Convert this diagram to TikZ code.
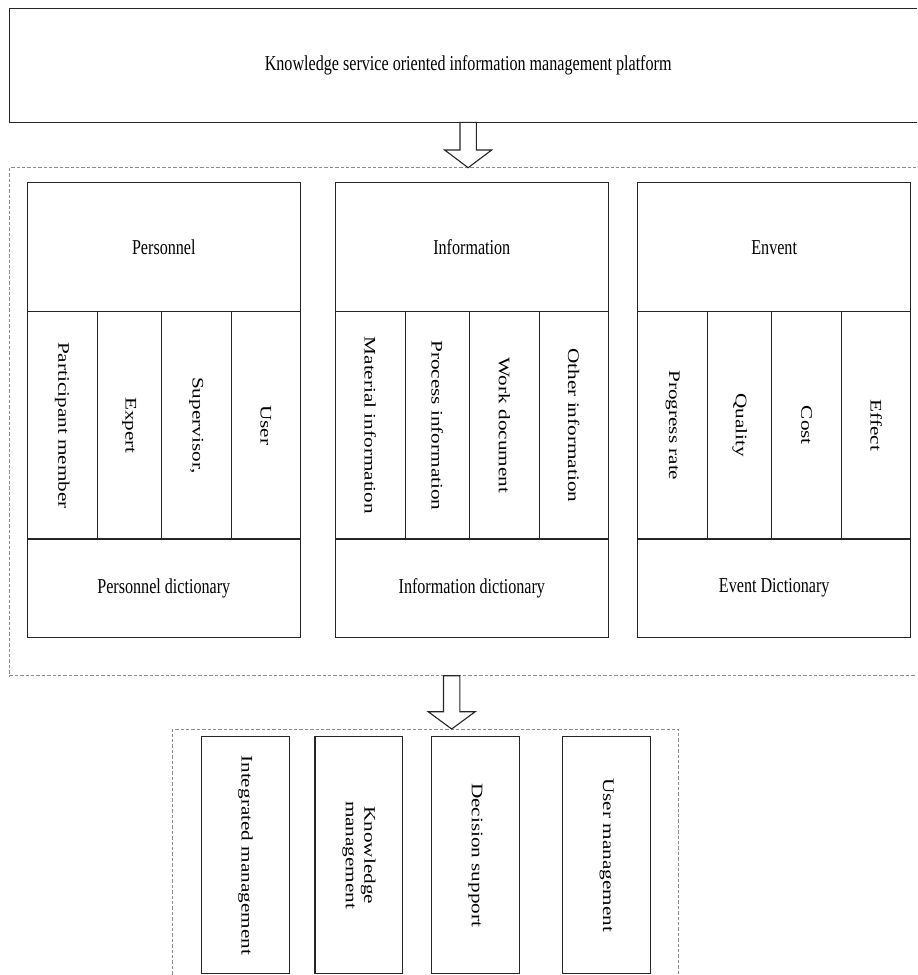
\documentclass[tikz,border=0pt]{standalone}
\usepackage{fontspec}
\setmainfont{Liberation Serif}
\usepackage{graphicx}
\begin{document}
\begin{tikzpicture}[x=0.5pt, y=-0.5pt,
        every node/.style={font=\fontsize{10.6}{12.2}\selectfont, inner sep=0pt, outer sep=0pt},
        cell/.style={draw=black!85, line width=0.55pt, anchor=north west},
        frame/.style={draw=black!45, line width=0.5pt, dash pattern=on 1.7pt off 1pt, anchor=north west},
        blockarrow/.style={draw=black!85, line width=0.55pt, fill=white, line join=miter}]
        \def\hlab#1{\scalebox{0.76}[1]{#1}}
        \def\vlab#1{\rotatebox{-90}{\scalebox{1}[0.76]{#1}}}
        \useasboundingbox (0,0) rectangle (917,975);
        \clip (0,0) rectangle (917,975);
        \node[frame, minimum width=917.7*0.5pt, minimum height=508*0.5pt] (board) at (9.3,167.7) {};
        \node[frame, minimum width=506.5*0.5pt, minimum height=300*0.5pt] (modules) at (172.3,729) {};
        \node[cell, minimum width=917.7*0.5pt, minimum height=114*0.5pt] (platform) at (9.3,8.3) {\hlab{Knowledge service oriented information management platform}};
        \foreach \gx/\g/\hd/\dict/\la/\lb/\lc/\ld in {
            27.3/pers/Personnel/{Personnel dictionary}/{Participant member}/Expert/{Supervisor,}/User,
            335.3/info/Information/{Information dictionary}/{Material information}/{Process information}/{Work document}/{Other information},
            637.7/event/Envent/{Event Dictionary}/{Progress rate}/Quality/Cost/Effect} {
            \node[cell, minimum width=273*0.5pt, minimum height=129*0.5pt] (\g-head) at (\gx,182.7) {\hlab{\hd}};
            \foreach \cx/\cw/\ct [count=\k] in {0/70/\la, 70/64/\lb, 134/70/\lc, 204/69/\ld}
                \node[cell, minimum width=\cw*0.5pt, minimum height=227.3*0.5pt] (\g-\k) at (\gx+\cx,311.7) {\vlab{\ct}};
            \node[cell, minimum width=273*0.5pt, minimum height=98.3*0.5pt] (\g-dict) at (\gx,539) {\hlab{\dict}};
        }
        \foreach \mx/\mt [count=\k] in {201.7/{Integrated management}, 315/{\begin{tabular}{@{}c@{}}Knowledge\\management\end{tabular}}, 431.7/{Decision support}, 562.8/{User management}}
            \node[cell, minimum width=87.5*0.5pt, minimum height=237*0.5pt] (mod-\k) at (\mx,736.7) {\vlab{\mt}};
        \coordinate (a1) at (platform.south);
        \coordinate (a2) at (451.7,675.7);
        \foreach \a/\s/\h in {a1/27.7/17.7, a2/36/17.3}
            \draw[blockarrow] (\a) ++(-8.2,0) -- ++(0,\s) -- ++(-15.3,0) -- ++(23.5,\h) -- ++(23.5,-\h) -- ++(-15.3,0) -- ++(0,-\s) -- cycle;
    \end{tikzpicture}
\end{document}
